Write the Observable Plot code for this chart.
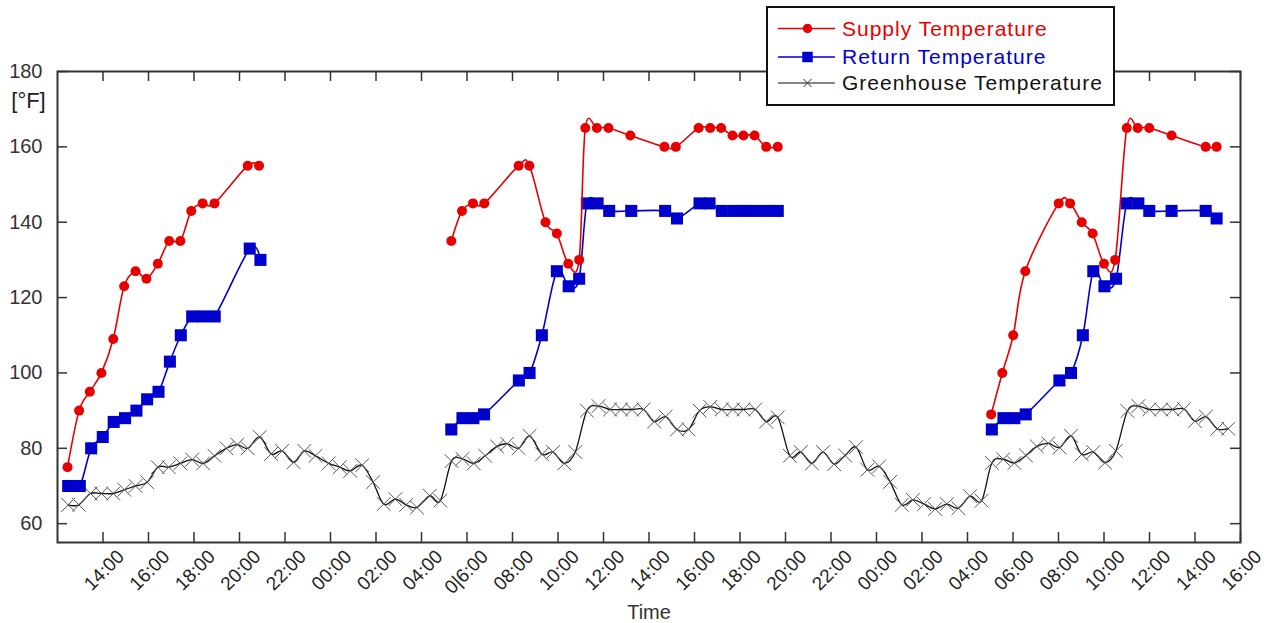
<!DOCTYPE html>
<html>
<head>
<meta charset="utf-8">
<script src="https://cdn.jsdelivr.net/npm/d3@7"></script>
<script src="https://cdn.jsdelivr.net/npm/@observablehq/plot@0.6"></script>
<style>
  html, body { margin: 0; padding: 0; background: #fff; }
  #wrap { position: relative; width: 1264px; height: 623px; font-family: "Liberation Sans", Arial, sans-serif; }
  #wrap svg { display: block; }
</style>
</head>
<body>
<div id="wrap"></div>
<script>
// Time is in hours counted from 00:00 of the first day
const tickHours = [14,16,18,20,22,24,26,28,30,32,34,36,38,40,42,44,46,48,50,52,54,56,58,60,62,64];
const tickLabels = ["14:00","16:00","18:00","20:00","22:00","00:00","02:00","04:00","0|6:00","08:00","10:00","12:00","14:00","16:00","18:00","20:00","22:00","00:00","02:00","04:00","06:00","08:00","10:00","12:00","14:00","16:00"];
const tempTicks = [60, 80, 100, 120, 140, 160, 180];

const seriesNames = ["Supply Temperature", "Return Temperature", "Greenhouse Temperature"];

const supplyTime = [12.44,12.95,13.42,13.93,14.45,14.93,15.43,15.91,16.41,16.91,17.40,17.88,18.38,18.90,20.36,20.86,
  25,
  29.31,29.78,30.26,30.76,32.27,32.74,33.45,33.95,34.45,34.93,35.20,35.71,36.22,37.18,38.68,39.18,40.18,40.69,41.17,41.67,42.15,42.64,43.15,43.66,
  48,
  53.04,53.53,54.01,54.54,56.01,56.51,57.02,57.50,58.00,58.49,59.00,59.48,59.99,60.97,62.47,62.95];
const supplyTemp = [75,90,95,100,109,123,127,125,129,135,135,143,145,145,155,155,
  null,
  135,143,145,145,155,155,140,137,129,130,165,165,165,163,160,160,165,165,165,163,163,163,160,160,
  null,
  89,100,110,127,145,145,140,137,129,130,165,165,165,163,160,160];

const returnTime = [12.47,12.98,13.48,13.99,14.47,14.97,15.47,15.94,16.44,16.94,17.42,17.92,18.40,18.91,20.45,20.92,
  25,
  29.31,29.80,30.28,30.75,32.28,32.75,33.29,33.95,34.47,34.93,35.27,35.74,36.25,37.22,38.71,39.23,40.22,40.66,41.20,41.71,42.20,42.67,43.18,43.66,
  48,
  53.07,53.58,54.06,54.56,56.04,56.55,57.07,57.53,58.02,58.53,59.00,59.51,59.99,60.97,62.47,62.95];
const returnTemp = [70,70,80,83,87,88,90,93,95,103,110,115,115,115,133,130,
  null,
  85,88,88,89,98,100,110,127,123,125,145,145,143,143,143,141,145,145,143,143,143,143,143,143,
  null,
  85,88,88,89,98,100,110,127,123,125,145,145,143,143,143,141];

const greenhouseTime = [12.47,12.94,13.45,13.93,14.45,14.94,15.43,15.94,16.41,16.89,17.40,17.92,18.40,18.90,19.43,19.90,20.36,20.89,21.39,21.87,22.38,22.85,23.34,23.92,24.41,24.87,25.39,25.87,26.34,26.85,27.33,27.80,28.36,28.83,
  29.32,29.80,30.30,30.80,31.32,31.76,32.27,32.75,33.30,33.78,34.28,34.76,35.27,35.78,36.29,36.77,37.25,37.76,38.23,38.73,39.23,39.74,40.22,40.69,41.20,41.69,42.15,42.67,43.15,43.66,
  44.19,44.67,45.16,45.65,46.14,46.62,47.10,47.60,48.12,48.60,49.11,49.60,50.09,50.58,51.09,51.60,52.11,52.62,
  53.07,53.57,54.06,54.57,55.05,55.55,56.05,56.55,57.02,57.53,58.05,58.52,59.03,59.51,59.99,60.51,61.02,61.52,62.00,62.48,62.98,63.46];
const greenhouseTemp = [65,65,68,68,68,69,70,71,75,75,76,77,76,78,80,81,80,83,78.5,79.3,76.3,79.3,78,76,75,74,75.5,71,65.2,66.5,65,64.3,67.4,66.1,
  76.6,77.2,76,78,80.5,81.2,80,83.3,78.4,79,76,79,90,91.2,90.3,90.3,90.3,90.3,87.1,88.4,85,85,90,91,90.3,90.3,90.3,90.3,87.1,88.2,
  78,79,76,79,75.8,78.1,80.3,74.3,75.2,71.1,65,66.3,65.2,63.9,65.2,64.1,67.3,66.1,
  76.1,77.1,76.1,78.1,80.5,81.3,80.2,83.3,78.4,79,76.2,79.3,89.9,91.2,90.3,90.3,90.3,90.4,87.2,88.4,85.2,85.2];

const colors = ["#e60000", "#0000cc", "#111111"];

const toRows = (ts, vs) => ts.map((t, i) => ({t, v: vs[i] == null ? NaN : vs[i]}));
const supply = toRows(supplyTime, supplyTemp);
const ret = toRows(returnTime, returnTemp);
const greenhouse = toRows(greenhouseTime, greenhouseTemp);

const W = 1264, H = 623, mL = 57, mR = 24, mT = 71, mB = 81;
const plotW = W - mL - mR, plotH = H - mT - mB;
const tickLen = 10;
const axisColor = "#333";

const chart = Plot.plot({
  width: W, height: H,
  marginLeft: mL, marginRight: mR, marginTop: mT, marginBottom: mB,
  x: {domain: [12, 64], axis: null},
  y: {domain: [55, 180], axis: null},
  style: {fontFamily: "'Liberation Sans', Arial, sans-serif", background: "#fff", overflow: "visible"},
  marks: [
    Plot.ruleX(tickHours, {x: d => d, insetTop: plotH - tickLen, stroke: axisColor, strokeWidth: 1.5}),
    Plot.ruleX(tickHours, {x: d => d, insetBottom: plotH - tickLen, stroke: axisColor, strokeWidth: 1.5}),
    Plot.ruleY(tempTicks, {y: d => d, insetRight: plotW - tickLen, stroke: axisColor, strokeWidth: 1.5}),
    Plot.ruleY(tempTicks, {y: d => d, insetLeft: plotW - tickLen, stroke: axisColor, strokeWidth: 1.5}),
    Plot.text(tempTicks, {y: d => d, text: d => String(d), frameAnchor: "left", textAnchor: "end", dx: -15, fontSize: 20, fill: "#333"}),
    Plot.text(tickHours, {x: d => d, text: (d, i) => tickLabels[i], frameAnchor: "bottom", rotate: -45, textAnchor: "end", lineAnchor: "middle", dx: 18, dy: 11, fontSize: 19, fill: "#222"}),
    Plot.text(["Time"], {frameAnchor: "bottom", textAnchor: "middle", lineAnchor: "middle", dy: 70, fontSize: 20, fill: "#333"}),
    Plot.text(["[°F]"], {frameAnchor: "top-left", textAnchor: "middle", lineAnchor: "middle", dx: -29, dy: 29, fontSize: 22, fill: "#222"}),
    Plot.line(greenhouse, {x: "t", y: "v", curve: "cardinal", stroke: colors[2], strokeWidth: 1.3}),
    Plot.dot(greenhouse, {x: "t", y: "v", symbol: "times", r: 6.3, stroke: "#555", strokeWidth: 1}),
    Plot.line(ret, {x: "t", y: "v", curve: "cardinal", stroke: colors[1], strokeWidth: 1.6}),
    Plot.dot(ret, {x: "t", y: "v", symbol: "square", r: 6.8, fill: colors[1]}),
    Plot.line(supply, {x: "t", y: "v", curve: "cardinal", stroke: colors[0], strokeWidth: 1.6}),
    Plot.dot(supply, {x: "t", y: "v", symbol: "circle", r: 5, fill: colors[0]}),
    Plot.frame({stroke: axisColor, strokeWidth: 2})
  ]
});
document.getElementById("wrap").appendChild(chart);

// Legend
const lg = d3.select("#wrap").append("svg")
  .attr("width", 354).attr("height", 106)
  .style("position", "absolute").style("left", "765px").style("top", "5px");
lg.append("rect").attr("x", 2).attr("y", 2).attr("width", 347).attr("height", 98)
  .attr("fill", "#fff").attr("stroke", "#111").attr("stroke-width", 2);
const rowsY = [23.5, 52, 78];
const sym = [d3.symbolCircle, d3.symbolSquare, d3.symbolTimes];
const symSize = [70, 110, 45];
seriesNames.forEach((name, i) => {
  const g = lg.append("g").attr("transform", `translate(0,${rowsY[i]})`);
  g.append("line").attr("x1", 13).attr("x2", 70).attr("y1", 0).attr("y2", 0)
    .attr("stroke", colors[i]).attr("stroke-width", i === 2 ? 1.2 : 1.5);
  const p = g.append("path").attr("transform", "translate(42.5,0)").attr("d", d3.symbol(sym[i], symSize[i])());
  if (i === 2) p.attr("fill", "none").attr("stroke", "#333").attr("stroke-width", 1);
  else p.attr("fill", colors[i]);
  g.append("text").attr("x", 77).attr("y", 0).attr("dy", "0.35em")
    .attr("font-family", "'Liberation Sans', Arial, sans-serif").attr("font-size", 21)
    .attr("letter-spacing", 1).attr("fill", colors[i]).text(name);
});
</script>
</body>
</html>
